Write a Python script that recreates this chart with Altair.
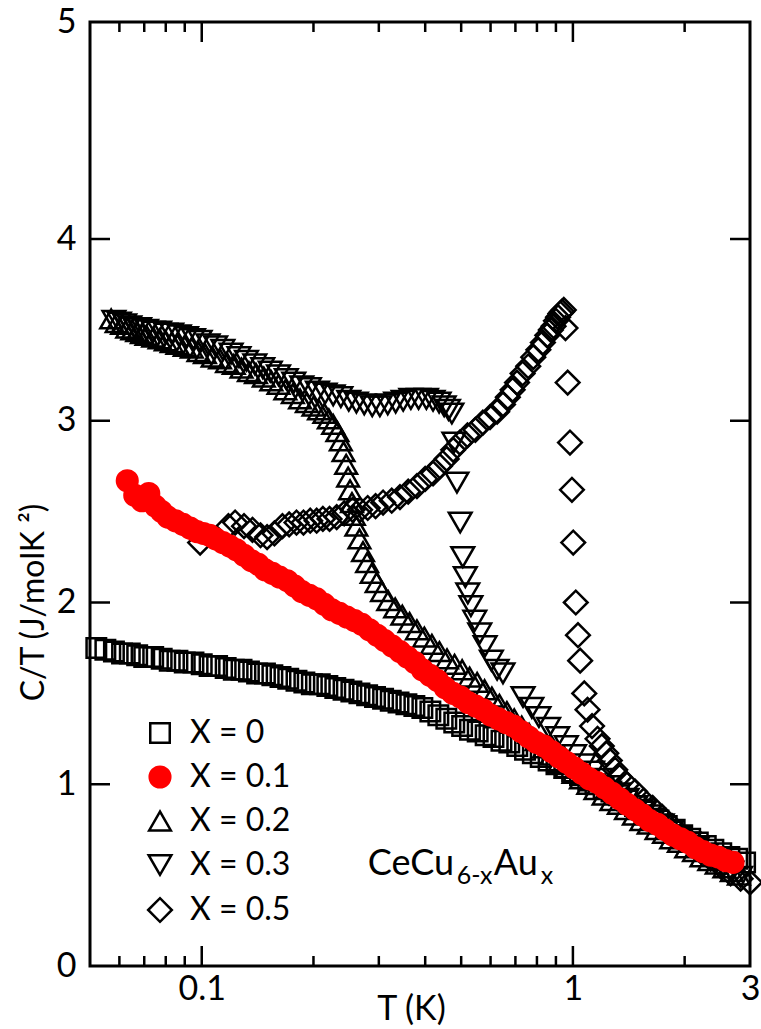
import altair as alt
import pandas as pd

FONT = "Lato"

SERIES = ["X = 0", "X = 0.1", "X = 0.2", "X = 0.3", "X = 0.5"]
SHAPES = ["square", "circle", "triangle-up", "triangle-down", "diamond"]
STROKES = ["black", "#ff0000", "black", "black", "black"]
FILLS = ["transparent", "#ff0000", "transparent", "transparent", "transparent"]
SIZES = [380, 560, 484, 484, 484]

# x = 0 (squares)
T_x0 = [0.052, 0.055, 0.058, 0.061, 0.064, 0.067, 0.070, 0.074, 0.078, 0.082,
        0.086, 0.090, 0.095, 0.100, 0.105, 0.110, 0.116, 0.122, 0.128, 0.134,
        0.141, 0.148, 0.155, 0.163, 0.171, 0.180, 0.189, 0.198, 0.208, 0.218,
        0.229, 0.241, 0.253, 0.266, 0.279, 0.293, 0.308, 0.323, 0.339, 0.356,
        0.374, 0.393, 0.413, 0.434, 0.456, 0.479, 0.503, 0.528, 0.554, 0.582,
        0.611, 0.642, 0.674, 0.708, 0.743, 0.780, 0.819, 0.860, 0.903, 0.948,
        0.995, 1.045, 1.10, 1.15, 1.21, 1.27, 1.33, 1.40, 1.47, 1.54,
        1.62, 1.70, 1.79, 1.88, 1.97, 2.07, 2.17, 2.28, 2.39, 2.51,
        2.64, 2.77, 2.91]
C_x0 = [1.75, 1.74, 1.73, 1.72, 1.72, 1.71, 1.70, 1.70, 1.69, 1.68,
        1.68, 1.67, 1.67, 1.66, 1.65, 1.65, 1.64, 1.63, 1.63, 1.62,
        1.61, 1.61, 1.60, 1.59, 1.58, 1.57, 1.56, 1.55, 1.55, 1.54,
        1.53, 1.52, 1.51, 1.50, 1.49, 1.48, 1.47, 1.46, 1.45, 1.44,
        1.43, 1.42, 1.40, 1.38, 1.36, 1.34, 1.32, 1.30, 1.29, 1.27,
        1.26, 1.24, 1.23, 1.21, 1.19, 1.17, 1.15, 1.13, 1.11, 1.09,
        1.07, 1.05, 1.02, 1.00, 0.98, 0.96, 0.94, 0.91, 0.88, 0.86,
        0.83, 0.80, 0.77, 0.75, 0.72, 0.70, 0.68, 0.66, 0.64, 0.62,
        0.60, 0.59, 0.57]

# x = 0.1 (red filled circles)
T_x1 = [0.063, 0.066, 0.069, 0.072, 0.075, 0.078, 0.081, 0.085, 0.089, 0.093,
        0.097, 0.101, 0.105, 0.109, 0.114, 0.119, 0.124, 0.130, 0.136, 0.142,
        0.148, 0.155, 0.162, 0.170, 0.178, 0.186, 0.195, 0.204, 0.214, 0.224,
        0.235, 0.246, 0.258, 0.270, 0.283, 0.297, 0.311, 0.326, 0.342, 0.358,
        0.375, 0.393, 0.412, 0.432, 0.453, 0.475, 0.498, 0.522, 0.547, 0.573,
        0.601, 0.630, 0.660, 0.692, 0.725, 0.760, 0.797, 0.836, 0.876, 0.918,
        0.962, 1.008, 1.057, 1.108, 1.161, 1.217, 1.276, 1.337, 1.40, 1.47,
        1.54, 1.61, 1.69, 1.77, 1.86, 1.95, 2.04, 2.14, 2.24, 2.35,
        2.46, 2.58, 2.70]
C_x1 = [2.67, 2.59, 2.56, 2.60, 2.53, 2.50, 2.47, 2.45, 2.43, 2.41,
        2.39, 2.38, 2.37, 2.35, 2.33, 2.31, 2.29, 2.26, 2.23, 2.21,
        2.18, 2.16, 2.14, 2.12, 2.09, 2.06, 2.04, 2.02, 1.99, 1.96,
        1.94, 1.92, 1.90, 1.88, 1.85, 1.82, 1.79, 1.76, 1.73, 1.70,
        1.67, 1.63, 1.60, 1.57, 1.53, 1.50, 1.48, 1.45, 1.43, 1.41,
        1.38, 1.36, 1.34, 1.32, 1.29, 1.26, 1.23, 1.21, 1.18, 1.15,
        1.12, 1.09, 1.06, 1.03, 1.01, 0.98, 0.95, 0.92, 0.89, 0.86,
        0.83, 0.80, 0.78, 0.75, 0.72, 0.70, 0.68, 0.65, 0.63, 0.61,
        0.60, 0.58, 0.57]

# x = 0.2 (open up-triangles)
T_x2 = [0.057, 0.059, 0.061, 0.063, 0.065, 0.067, 0.069, 0.071, 0.074, 0.077,
        0.080, 0.083, 0.086, 0.090, 0.094, 0.098, 0.102, 0.107, 0.112, 0.117,
        0.122, 0.128, 0.134, 0.140, 0.147, 0.154, 0.161, 0.168, 0.176, 0.184,
        0.192, 0.200, 0.207, 0.214, 0.220, 0.226, 0.232, 0.237, 0.241, 0.245,
        0.248, 0.251, 0.254, 0.257, 0.261, 0.266, 0.272, 0.279, 0.287, 0.296,
        0.306, 0.318, 0.332, 0.347, 0.363, 0.380, 0.398, 0.417, 0.437, 0.458,
        0.480, 0.503, 0.527, 0.552, 0.578, 0.605, 0.634, 0.664, 0.695, 0.728,
        0.762, 0.798, 0.836, 0.875, 0.916, 0.959, 1.004, 1.051, 1.10, 1.15,
        1.21, 1.27, 1.33, 1.39, 1.46, 1.53, 1.60, 1.68, 1.76, 1.84,
        1.93, 2.02, 2.12, 2.22, 2.33, 2.44, 2.56, 2.68, 2.80]
C_x2 = [3.56, 3.54, 3.53, 3.51, 3.50, 3.49, 3.48, 3.47, 3.46, 3.45,
        3.44, 3.43, 3.42, 3.41, 3.40, 3.38, 3.37, 3.35, 3.34, 3.32,
        3.31, 3.29, 3.27, 3.26, 3.24, 3.22, 3.20, 3.17, 3.15, 3.12,
        3.10, 3.08, 3.06, 3.04, 3.01, 2.98, 2.94, 2.89, 2.83, 2.76,
        2.69, 2.62, 2.55, 2.48, 2.42, 2.35, 2.28, 2.22, 2.16, 2.11,
        2.06, 2.01, 1.97, 1.93, 1.89, 1.85, 1.81, 1.77, 1.73, 1.69,
        1.66, 1.63, 1.59, 1.56, 1.52, 1.48, 1.44, 1.40, 1.36, 1.32,
        1.28, 1.24, 1.20, 1.16, 1.12, 1.09, 1.06, 1.03, 1.00, 0.97,
        0.94, 0.91, 0.89, 0.86, 0.83, 0.80, 0.78, 0.75, 0.73, 0.70,
        0.68, 0.65, 0.63, 0.60, 0.58, 0.56, 0.54, 0.52, 0.50]

# x = 0.3 (open down-triangles)
T_x3 = [0.058, 0.060, 0.062, 0.064, 0.066, 0.068, 0.071, 0.074, 0.077, 0.080,
        0.083, 0.087, 0.091, 0.095, 0.099, 0.104, 0.109, 0.114, 0.120, 0.126,
        0.132, 0.139, 0.146, 0.153, 0.161, 0.169, 0.177, 0.186, 0.195, 0.205,
        0.215, 0.226, 0.237, 0.249, 0.261, 0.274, 0.288, 0.302, 0.317, 0.333,
        0.349, 0.366, 0.384, 0.403, 0.420, 0.436, 0.450, 0.462, 0.472, 0.478,
        0.487, 0.497, 0.505, 0.513, 0.521, 0.531, 0.544, 0.561, 0.580, 0.603,
        0.625, 0.648, 0.734, 0.775, 0.81, 0.86, 0.91, 0.96, 1.01, 1.07,
        1.13, 1.19, 1.26, 1.33, 1.40, 1.48, 1.56, 1.65, 1.74, 1.84,
        1.94, 2.05, 2.16, 2.28, 2.41, 2.54, 2.68, 2.83]
C_x3 = [3.55, 3.54, 3.53, 3.52, 3.51, 3.51, 3.50, 3.49, 3.49, 3.48,
        3.48, 3.47, 3.46, 3.45, 3.44, 3.42, 3.41, 3.39, 3.37, 3.35,
        3.33, 3.31, 3.29, 3.27, 3.25, 3.23, 3.21, 3.19, 3.18, 3.16,
        3.15, 3.14, 3.13, 3.11, 3.10, 3.09, 3.08, 3.08, 3.09, 3.10,
        3.11, 3.12, 3.12, 3.12, 3.11, 3.10, 3.08, 3.06, 3.04, 2.88,
        2.66, 2.44, 2.25, 2.14, 2.05, 1.98, 1.90, 1.83, 1.76, 1.68,
        1.63, 1.61, 1.48, 1.42, 1.37, 1.31, 1.26, 1.21, 1.16, 1.11,
        1.07, 1.03, 0.99, 0.95, 0.92, 0.88, 0.85, 0.81, 0.78, 0.74,
        0.71, 0.68, 0.65, 0.61, 0.58, 0.55, 0.52, 0.49]

# x = 0.5 (open diamonds)
T_x5 = [0.099, 0.118, 0.123, 0.130, 0.137, 0.144, 0.150, 0.157, 0.165, 0.172,
        0.180, 0.188, 0.196, 0.204, 0.212, 0.221, 0.231, 0.242, 0.255, 0.267,
        0.280, 0.294, 0.308, 0.325, 0.342, 0.360, 0.380, 0.400, 0.420, 0.438,
        0.457, 0.476, 0.496, 0.520, 0.546, 0.572, 0.598, 0.625, 0.648, 0.668,
        0.688, 0.707, 0.732, 0.758, 0.782, 0.807, 0.830, 0.853, 0.872, 0.887,
        0.900, 0.912, 0.925, 0.935, 0.945, 0.955, 0.968, 0.982, 0.994, 1.002,
        1.018, 1.032, 1.046, 1.073, 1.095, 1.126, 1.165, 1.196, 1.23, 1.257,
        1.30, 1.336, 1.40, 1.47, 1.55, 1.64, 1.74, 1.85, 1.96, 2.08,
        2.21, 2.35, 2.50, 2.66, 2.83, 3.00]
C_x5 = [2.33, 2.42, 2.44, 2.42, 2.40, 2.37, 2.36, 2.38, 2.42, 2.43,
        2.44, 2.44, 2.45, 2.45, 2.46, 2.46, 2.47, 2.49, 2.51, 2.51,
        2.52, 2.53, 2.55, 2.56, 2.58, 2.61, 2.64, 2.68, 2.71, 2.75,
        2.79, 2.84, 2.88, 2.92, 2.95, 2.99, 3.02, 3.05, 3.09, 3.13,
        3.17, 3.21, 3.26, 3.30, 3.35, 3.39, 3.43, 3.47, 3.50, 3.52,
        3.55, 3.57, 3.59, 3.60, 3.61, 3.51, 3.21, 2.88, 2.62, 2.33,
        2.00, 1.82, 1.68, 1.50, 1.41, 1.32, 1.25, 1.21, 1.17, 1.13,
        1.08, 1.04, 1.00, 0.96, 0.91, 0.87, 0.82, 0.77, 0.72, 0.68,
        0.63, 0.59, 0.55, 0.51, 0.48, 0.46]

X_MAJOR = [0.1, 1]
X_MINOR = [0.06, 0.07, 0.08, 0.09, 0.2, 0.3, 0.4, 0.5, 0.6, 0.7, 0.8, 0.9, 2]
X_LABELS = [0.1, 1, 3]
Y_MAJOR = [1, 2, 3, 4]
Y_TOP = 5.194
Y_LABELS = [0, 1, 2, 3, 4, Y_TOP]

# annotation CeCu(6-x)Au(x): pieces, big / subscript
NOTE_T = 0.280
NOTE_C = 0.50
NOTE_PARTS = ["CeCu", "6-x", "Au", "x"]
NOTE_SUB = [False, True, False, True]
NOTE_DX = [0, 89, 126, 173]

W, H = 660, 944

order = [(SERIES[0], T_x0, C_x0), (SERIES[2], T_x2, C_x2), (SERIES[3], T_x3, C_x3),
         (SERIES[4], T_x5, C_x5), (SERIES[1], T_x1, C_x1)]
rows = []
for name, ts, cs in order:
    for t, c in zip(ts, cs):
        rows.append({"series": name, "T": t, "CT": c})
df = pd.DataFrame(rows)

xscale = alt.Scale(type="log", domain=[0.05, 3], nice=False)
yscale = alt.Scale(domain=[0, Y_TOP], nice=False, zero=False)

xaxis = alt.Axis(values=X_LABELS, format="~g", grid=False, ticks=False, domain=False,
                 labelFont=FONT, labelFontSize=34, labelColor="black", labelPadding=6,
                 labelFlush=False, labelOverlap=False,
                 titleFont=FONT, titleFontSize=34, titleFontWeight="normal",
                 titleColor="black", titleX=321, titleY=43, titleAlign="center",
                 titleBaseline="middle")
yaxis = alt.Axis(values=Y_LABELS, labelExpr="datum.value > 4.5 ? '5' : datum.label",
                 grid=False, ticks=False, domain=False,
                 labelFont=FONT, labelFontSize=34, labelColor="black", labelPadding=14,
                 labelOverlap=False, labelFlush=False,
                 titleFont=FONT, titleFontSize=32, titleFontWeight="normal",
                 titleColor="black", titleX=-57, titleY=580, titleAlign="center",
                 titleBaseline="middle", titleAngle=270)

XENC = alt.X("T:Q", scale=xscale, axis=xaxis, title="T (K)")
YENC = alt.Y("CT:Q", scale=yscale, axis=yaxis, title="C/T (J/molK \u00b2)")

legend = alt.Legend(title=None, orient="none", legendX=54, legendY=695,
                    labelFont=FONT, labelFontSize=32, labelColor="black",
                    symbolStrokeWidth=2.5, labelOffset=14, rowPadding=12,
                    padding=0)

points = alt.Chart(df).mark_point(strokeWidth=2.5, opacity=1).encode(
    x=XENC, y=YENC,
    shape=alt.Shape("series:N", scale=alt.Scale(domain=SERIES, range=SHAPES), legend=legend),
    color=alt.Color("series:N", scale=alt.Scale(domain=SERIES, range=STROKES), legend=legend),
    fill=alt.Fill("series:N", scale=alt.Scale(domain=SERIES, range=FILLS), legend=legend),
    size=alt.Size("series:N", scale=alt.Scale(domain=SERIES, range=SIZES), legend=legend),
)

xmaj = pd.DataFrame({"T": X_MAJOR})
xmin = pd.DataFrame({"T": X_MINOR})
ymaj = pd.DataFrame({"CT": Y_MAJOR})


def xticks(data, length, top):
    base = alt.Chart(data).mark_rule(color="black", strokeWidth=2.5)
    if top:
        return base.encode(x=XENC, y=alt.value(0), y2=alt.value(length))
    return base.encode(x=XENC, y=alt.value(H), y2=alt.value(H - length))


def yticks(data, length, right):
    base = alt.Chart(data).mark_rule(color="black", strokeWidth=2.5)
    if right:
        return base.encode(y=YENC, x=alt.value(W), x2=alt.value(W - length))
    return base.encode(y=YENC, x=alt.value(0), x2=alt.value(length))


notes = []
for part, sub, dx in zip(NOTE_PARTS, NOTE_SUB, NOTE_DX):
    nd = pd.DataFrame({"T": [NOTE_T], "CT": [NOTE_C], "label": [part]})
    notes.append(
        alt.Chart(nd).mark_text(
            font=FONT, fontSize=25 if sub else 36, color="black", align="left",
            baseline="alphabetic", dx=dx, dy=9 if sub else 0,
        ).encode(x=XENC, y=YENC, text="label:N")
    )

chart = alt.layer(
    points,
    xticks(xmaj, 20, False), xticks(xmin, 10, False),
    xticks(xmaj, 20, True), xticks(xmin, 10, True),
    yticks(ymaj, 20, False), yticks(ymaj, 20, True),
    *notes,
).properties(
    width=W, height=H,
    padding={"left": 90, "top": 22, "right": 11, "bottom": 63},
    autosize=alt.AutoSizeParams(type="none"),
).configure_view(stroke="black", strokeWidth=3)

chart.save("out.html", embed_options={"renderer": "svg", "actions": False})
